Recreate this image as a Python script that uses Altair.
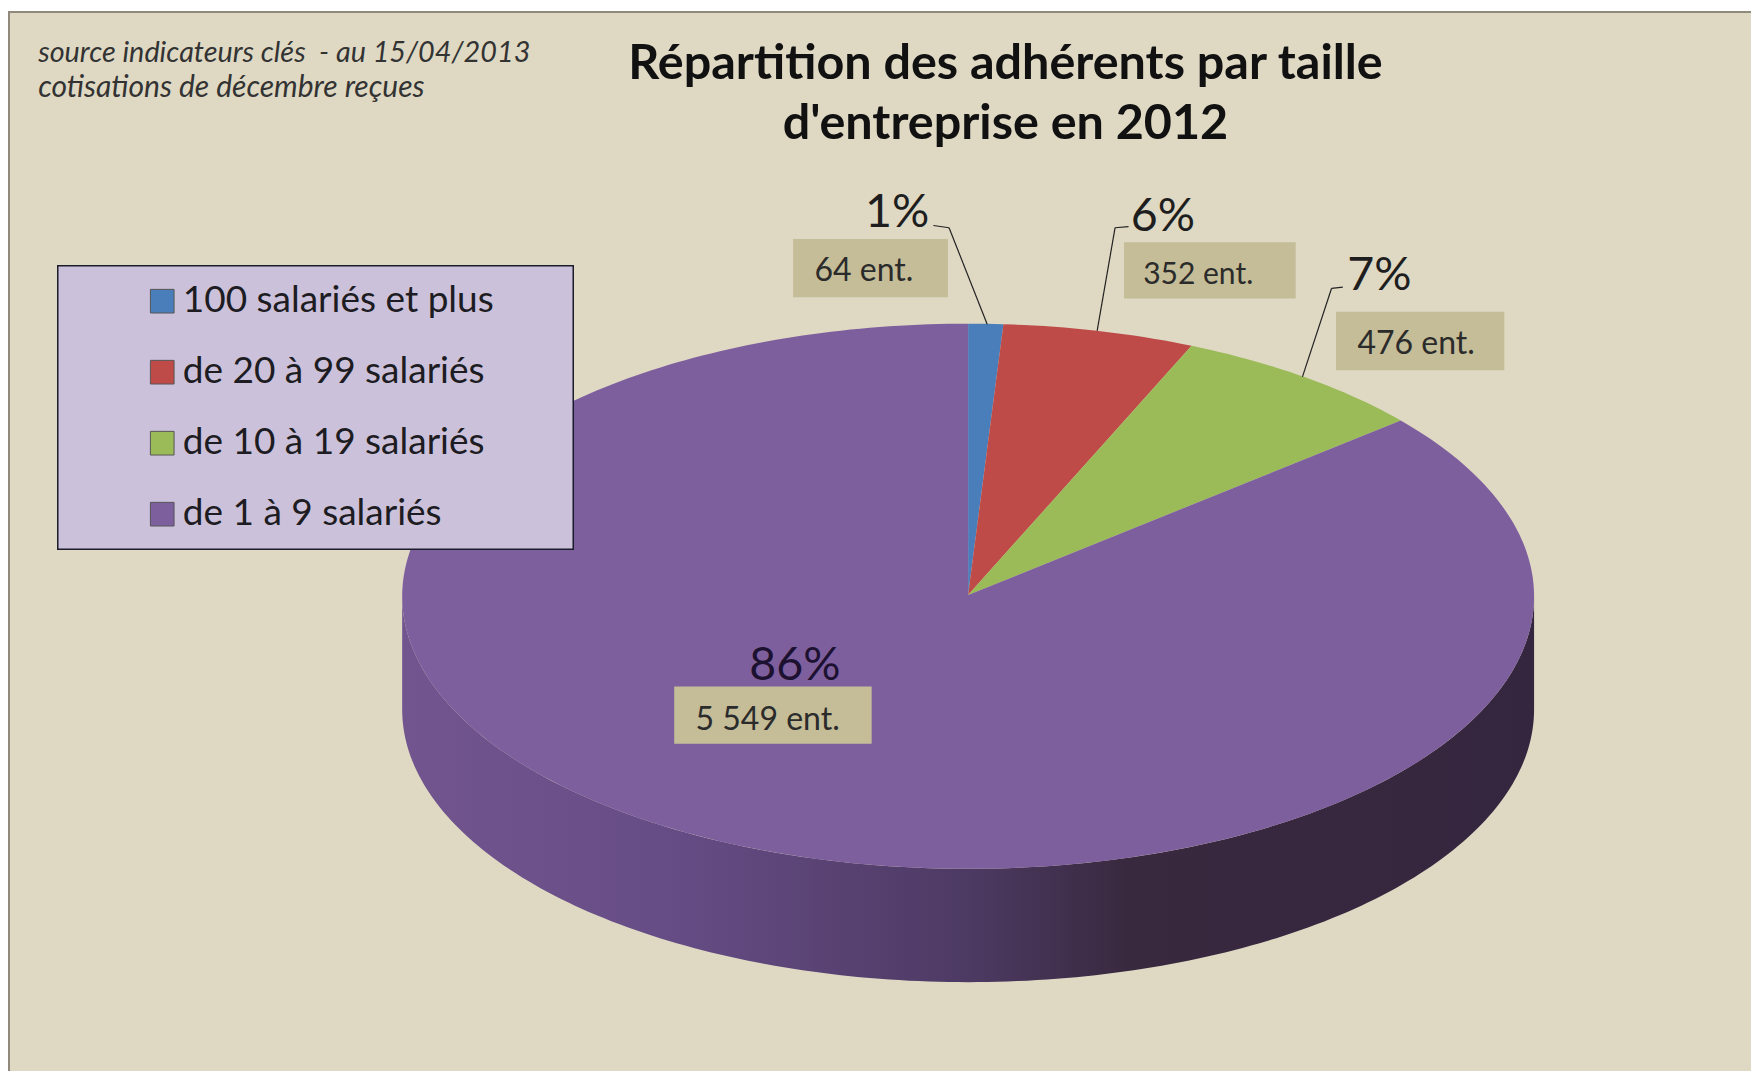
import math
import altair as alt
import pandas as pd

# ---- data ----
categories = ["100 salariés et plus", "de 20 à 99 salariés", "de 10 à 19 salariés", "de 1 à 9 salariés"]
companies = [64, 352, 476, 5549]
pct_labels = ["1%", "6%", "7%", "86%"]
ent_labels = ["64 ent.", "352 ent.", "476 ent.", "5 549 ent."]
colors = ["#4A7EBB", "#BE4B48", "#9BBB59", "#7E5F9E"]

W, H = 1743, 1063
S = 1759 / 1568
def px(v): return v * S - 8   # shrunk-reference x -> chart pixels
def py(v): return v * S - 8

# pie geometry, page pixels
CX, CY, A, B = 863 * S, 531.5 * S, 504.5 * S, 243 * S
DEPTH = 101 * S / B

# ---- slices from the values ----
total = sum(companies)
rows = []
start = 0.0
for cat, v in zip(categories, companies):
    end = start + v / total * 2 * math.pi
    n = max(4, int((end - start) * 180 / math.pi))
    rows.append(dict(cat=cat, i=0, ux=0.0, uy=(595 - CY) / B))
    for k in range(n + 1):
        t = start + (end - start) * k / n
        rows.append(dict(cat=cat, i=k + 1, ux=math.sin(t), uy=-math.cos(t)))
    start = end
slices = pd.DataFrame(rows)

wall = pd.DataFrame([
    dict(ux=math.sin(math.radians(d)), uy=-math.cos(math.radians(d)),
         uy2=-math.cos(math.radians(d)) + DEPTH)
    for d in range(90, 271)
])

xs = alt.Scale(domain=[(8 - CX) / A, (W + 8 - CX) / A], nice=False, zero=False)
ys = alt.Scale(domain=[(8 - CY) / B, (H + 8 - CY) / B], nice=False, zero=False, reverse=True)

FONT = "Lato"

bg = alt.Chart(pd.DataFrame({"a": [0]})).mark_rect(
    fill="#DFD9C4", stroke="#8F8A7C", strokeWidth=2
).encode(x=alt.value(1), x2=alt.value(W + 20), y=alt.value(4), y2=alt.value(H + 20))

wall_layer = alt.Chart(wall).mark_area(
    color=alt.Gradient(
        gradient="linear", x1=0, x2=1, y1=0, y2=0,
        stops=[
            alt.GradientStop(color="#72558F", offset=0),
            alt.GradientStop(color="#664C85", offset=0.24),
            alt.GradientStop(color="#4D3A63", offset=0.5),
            alt.GradientStop(color="#39293F", offset=0.64),
            alt.GradientStop(color="#35263F", offset=1),
        ],
    )
).encode(
    x=alt.X("ux:Q", scale=xs, axis=None),
    y=alt.Y("uy:Q", scale=ys, axis=None),
    y2="uy2:Q",
)

pie = alt.Chart(slices).mark_line(interpolate="linear-closed", strokeWidth=1, strokeOpacity=0).encode(
    x=alt.X("ux:Q", scale=xs, axis=None),
    y=alt.Y("uy:Q", scale=ys, axis=None),
    order="i:Q",
    detail="cat:N",
    fill=alt.Fill(
        "cat:N",
        scale=alt.Scale(domain=categories, range=colors),
        sort=categories,
        legend=alt.Legend(
            title=None, orient="none",
            legendX=px(134) - 6.6, legendY=py(252),
            symbolType="square", symbolSize=560, symbolStrokeColor="#555555",
            symbolStrokeWidth=1,
            labelFont=FONT, labelFontSize=37, labelColor="#1c1c22", labelOffset=2,
            labelLimit=500, rowPadding=33, padding=0,
        ),
    ),
)

def box(x0, x1, y0, y1, fill, stroke=None):
    kw = dict(fill=fill)
    if stroke:
        kw.update(stroke=stroke, strokeWidth=1.5)
    return alt.Chart(pd.DataFrame({"a": [0]})).mark_rect(**kw).encode(
        x=alt.value(px(x0)), x2=alt.value(px(x1)), y=alt.value(py(y0)), y2=alt.value(py(y1)))

def txt(s, x, y, size, color="#1e1e1e", align="left", **kw):
    return alt.Chart(pd.DataFrame({"a": [0]})).mark_text(
        text=s, font=FONT, fontSize=size, color=color, align=align, baseline="middle", **kw
    ).encode(x=alt.value(px(x)), y=alt.value(py(y)))

def seg(x0, y0, x1, y1):
    return alt.Chart(pd.DataFrame({"a": [0]})).mark_rule(color="#222222", strokeWidth=1.2).encode(
        x=alt.value(px(x0)), y=alt.value(py(y0)), x2=alt.value(px(x1)), y2=alt.value(py(y1)))

layers = [bg, wall_layer, pie, box(51.5, 511, 237, 489.5, "#CCC1DA", "#1c1c2c")]

tag_boxes = [(707, 845, 213, 265), (1002, 1155, 216, 266), (1191, 1341, 278, 330), (601, 777, 612, 663)]
tag_text = [(726, 242), (1019, 245), (1210, 307), (620, 642)]
tag_size = [32, 30, 32, 32]
for b, t, s, z in zip(tag_boxes, tag_text, ent_labels, tag_size):
    layers.append(box(*b, "#C4BD97"))
    layers.append(txt(s, t[0], t[1], z, "#2b2b2b"))

pct_pos = [(771, 190), (1008, 193), (1201, 246), (668, 594)]
for p, s, c in zip(pct_pos, pct_labels, ["#1e1e1e", "#1e1e1e", "#1e1e1e", "#1c1130"]):
    layers.append(txt(s, p[0], p[1], 46.5, c))

for a in [(832, 201, 846, 203), (846, 203, 880, 289),
          (1006, 202, 994, 203), (994, 203, 978, 295),
          (1197, 256, 1187, 257), (1187, 257, 1161, 336)]:
    layers.append(seg(*a))

layers.append(txt("source indicateurs clés\u00a0 - au 15/04/2013", 34, 47, 28.8, "#333333", fontStyle="italic"))
layers.append(txt("cotisations de décembre reçues", 34, 78, 30, "#333333", fontStyle="italic"))

chart = alt.layer(*layers).properties(
    width=W, height=H, padding=0, autosize=alt.AutoSizeParams(type="none"),
    background="white",
    title=alt.TitleParams(
        text=["Répartition des adhérents par taille", "d'entreprise en 2012"],
        orient="top", anchor="middle", offset=-164, dx=126,
        font=FONT, fontSize=48.5, fontWeight="bold", color="#111111", lineHeight=60,
        baseline="middle",
    ),
).configure_view(stroke=None)

chart.save("out.html", embed_options={"renderer": "svg", "actions": False})
